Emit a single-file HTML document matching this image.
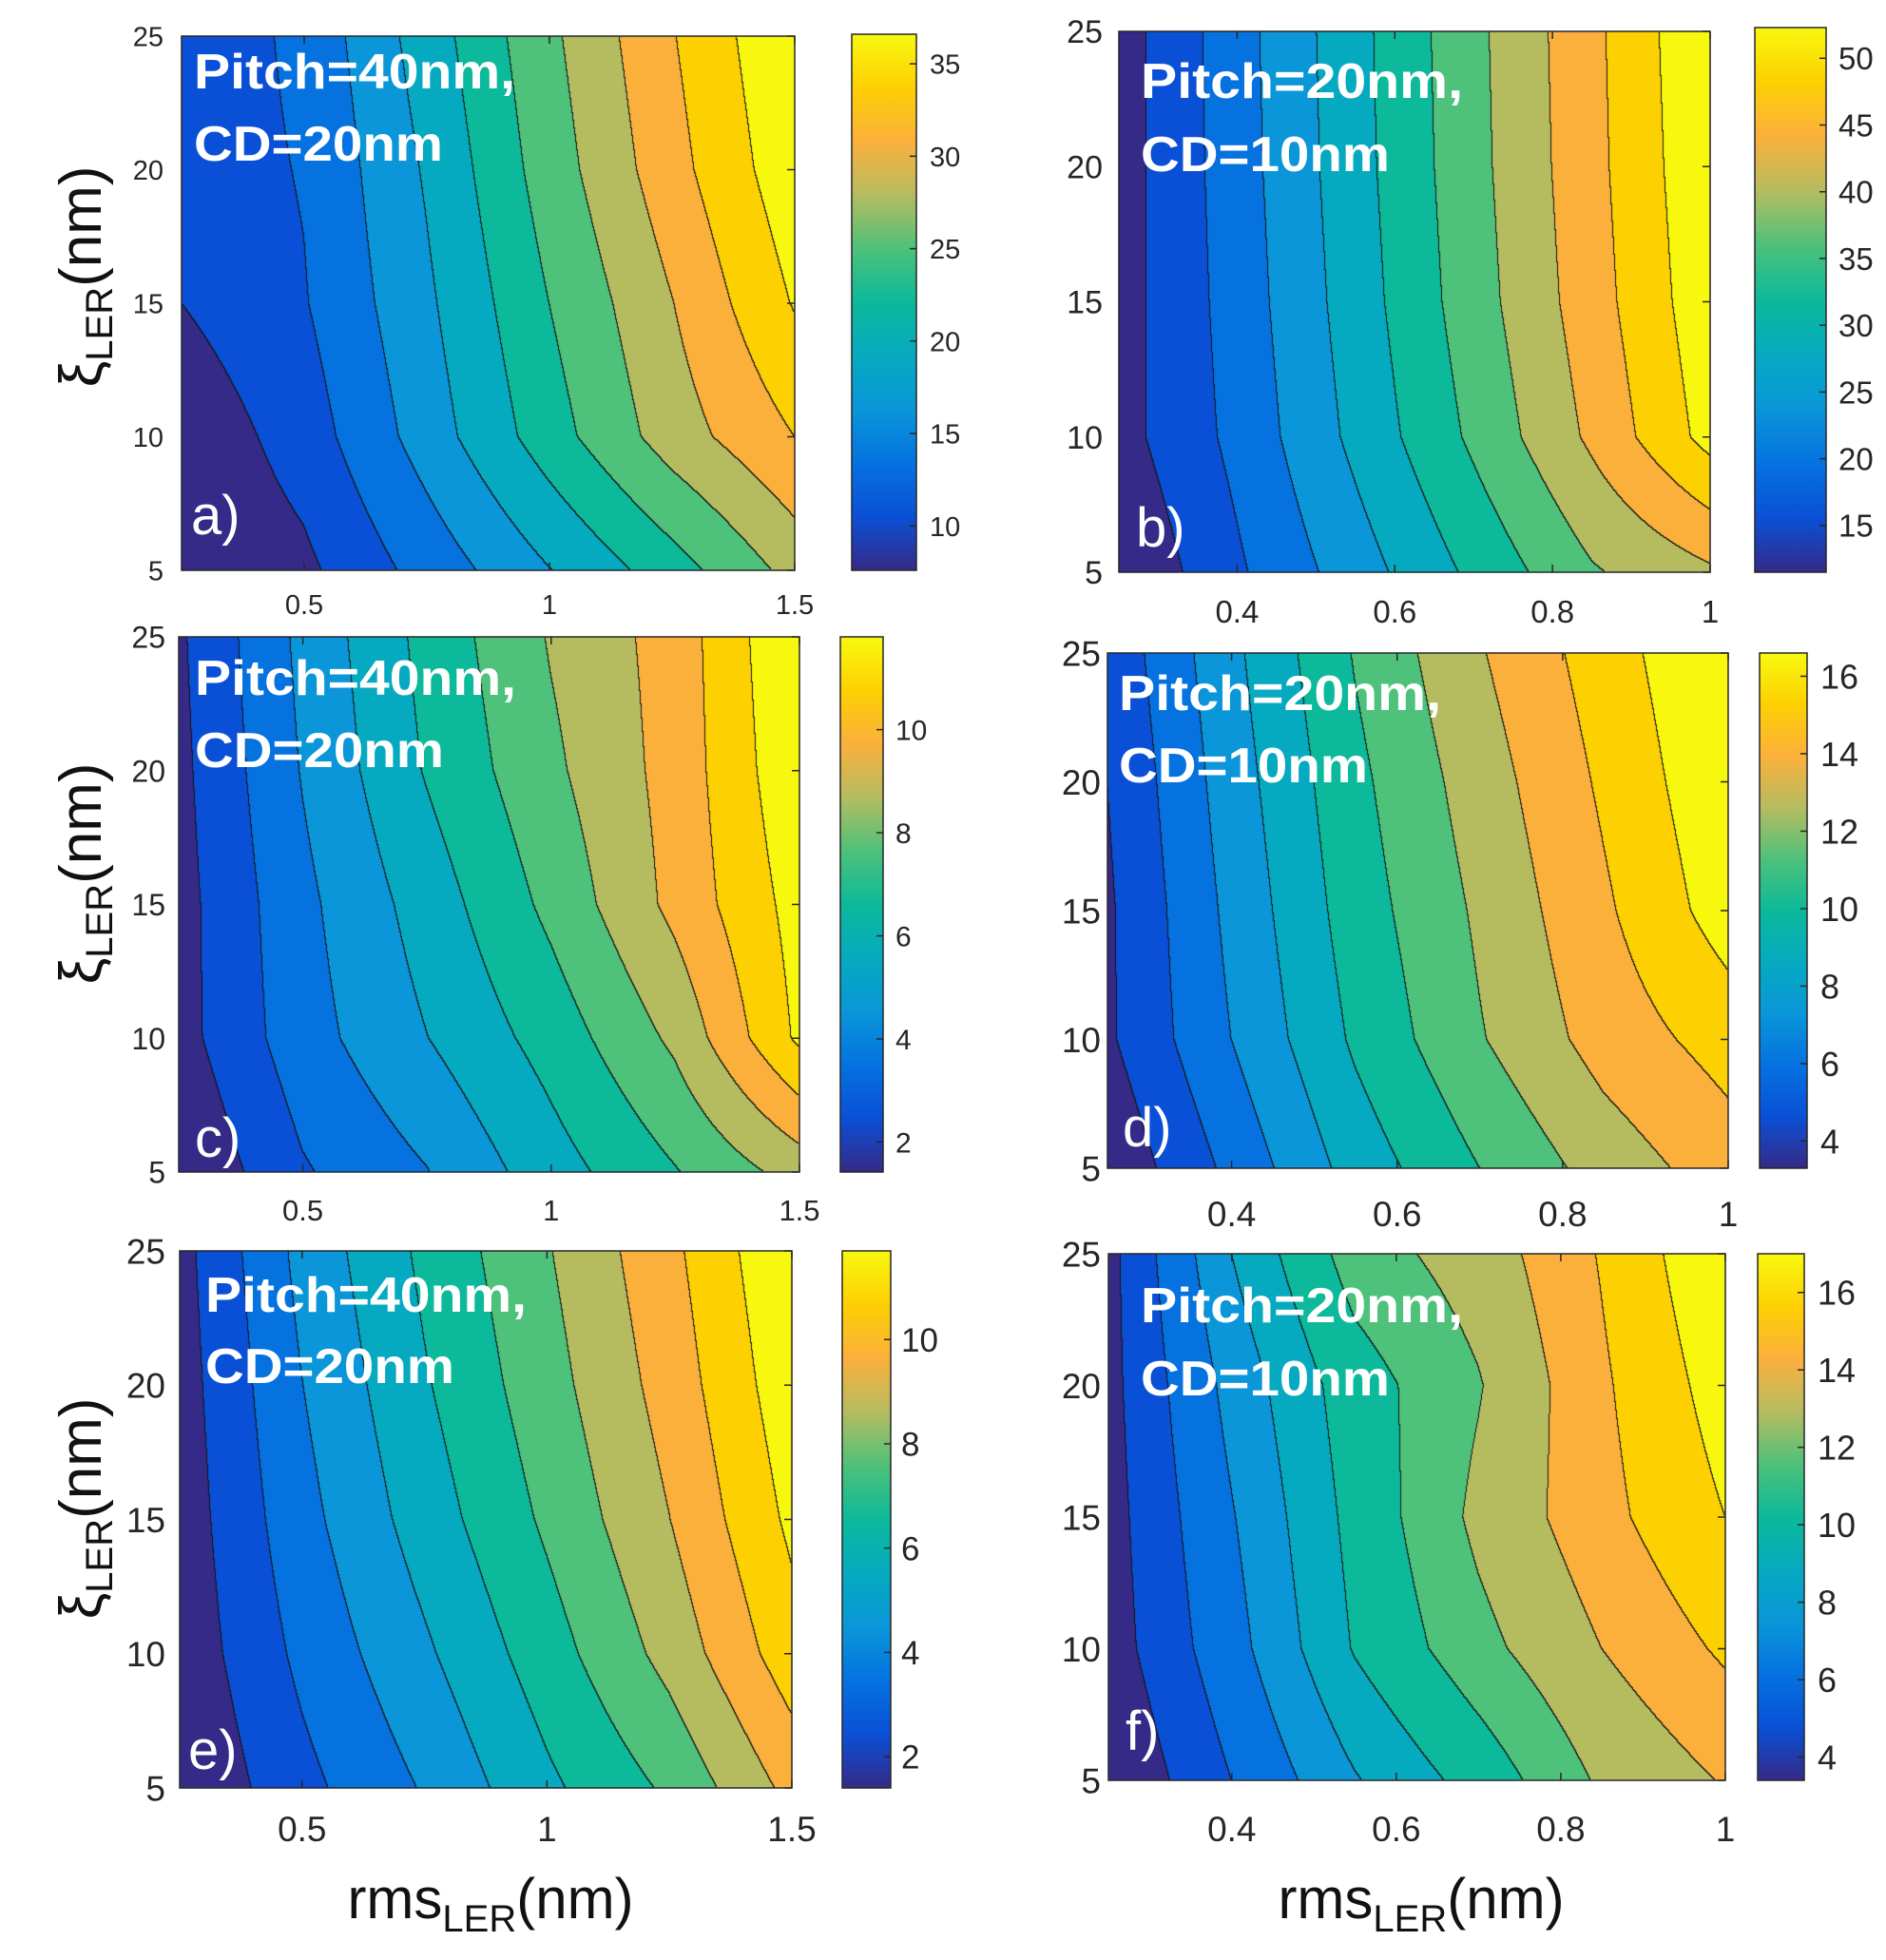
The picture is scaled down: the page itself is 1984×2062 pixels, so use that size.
<!DOCTYPE html>
<html><head><meta charset="utf-8">
<style>
html,body{margin:0;padding:0;background:#fff;}
#root{position:relative;width:1984px;height:2062px;overflow:hidden;background:#fff;}
canvas{position:absolute;}
svg{position:absolute;left:0;top:0;}
</style></head>
<body>
<div id="root">
<svg id="svg" width="1984" height="2062"></svg>
</div>
<script>
// ---------- DATA ----------
const xsLeft = [0.25, 0.5, 0.75, 1.0, 1.25, 1.5];
const xsRight = [0.25, 0.4, 0.55, 0.7, 0.85, 1.0];
const ysGrid = [5, 10, 15, 20, 25];

const zA = [
  [7.6, 9.6, 13.8, 18.0, 22.2, 27.0],
  [8.2, 11.4, 16.7, 22.2, 27.4, 31.3],
  [10.2, 12.6, 17.6, 23.4, 28.6, 34.2],
  [11.0, 13.0, 18.4, 24.7, 30.3, 35.8],
  [10.6, 13.5, 19.4, 25.5, 31.1, 36.6]
];
const zB = [
  [11.5, 18.3, 24.5, 30.8, 37.0, 40.5],
  [13.8, 19.9, 27.2, 34.4, 41.8, 49.8],
  [13.6, 20.5, 28.1, 35.7, 43.1, 51.0],
  [13.5, 20.9, 28.6, 36.2, 43.6, 51.6],
  [13.4, 21.1, 28.8, 36.4, 43.8, 52.0]
];
const zC = [
  [1.42, 3.2, 4.2, 5.7, 7.0, 8.4],
  [2.0, 3.84, 5.16, 6.5, 8.2, 11.0],
  [2.0, 4.0, 5.6, 7.3, 9.2, 11.2],
  [2.1, 4.3, 6.2, 7.8, 9.3, 11.6],
  [2.2, 4.47, 6.42, 8.08, 9.34, 11.8]
];
const zD = [
  [3.5, 6.0, 8.6, 10.5, 12.2, 13.5],
  [4.3, 6.9, 9.5, 11.6, 13.4, 14.6],
  [4.3, 7.2, 9.9, 11.9, 13.9, 15.9],
  [4.5, 7.5, 10.2, 12.3, 14.3, 16.3],
  [4.8, 7.8, 10.6, 12.8, 14.7, 16.6]
];
const zE = [
  [1.4, 3.0, 4.3, 5.9, 7.2, 9.2],
  [1.7, 3.5, 5.0, 6.6, 8.3, 10.4],
  [1.8, 3.9, 5.6, 7.2, 8.9, 11.0],
  [1.9, 4.2, 6.0, 7.6, 9.3, 11.4],
  [2.0, 4.5, 6.3, 7.9, 9.6, 11.7]
];
const zF = [
  [3.4, 5.8, 8.2, 10.0, 12.2, 13.4],
  [4.0, 6.6, 9.6, 11.6, 13.3, 14.7],
  [4.1, 7.0, 9.9, 12.3, 14.1, 15.8],
  [4.2, 7.5, 10.2, 11.9, 14.3, 16.4],
  [4.2, 8.3, 11.4, 12.6, 14.6, 17.0]
];

const levelsA = [10.2, 12.8, 15.5, 18.1, 20.8, 23.4, 26.1, 28.7, 31.3, 34.0];
const levelsB = [15.2, 18.9, 22.6, 26.3, 30.0, 33.7, 37.4, 41.1, 44.8, 48.5];
const levelsC = [2.36, 3.3, 4.24, 5.18, 6.12, 7.06, 8.0, 8.94, 9.88, 10.82];
const levelsD = [4.5, 5.7, 6.9, 8.1, 9.3, 10.5, 11.7, 12.9, 14.1, 15.3];
const levelsE = [2.34, 3.28, 4.22, 5.16, 6.1, 7.04, 7.98, 8.92, 9.86, 10.8];
const levelsF = [4.6, 5.8, 7.1, 8.3, 9.5, 10.8, 12.0, 13.3, 14.5, 15.8];

const climA = [7.6, 36.6], climB = [11.5, 52.3], climC = [1.42, 11.8];
const climD = [3.3, 16.6], climE = [1.4, 11.7], climF = [3.4, 17.0];

const cbTicksA = [10, 15, 20, 25, 30, 35];
const cbTicksB = [15, 20, 25, 30, 35, 40, 45, 50];
const cbTicksC = [2, 4, 6, 8, 10];
const cbTicksD = [4, 6, 8, 10, 12, 14, 16];
const cbTicksE = [2, 4, 6, 8, 10];
const cbTicksF = [4, 6, 8, 10, 12, 14, 16];
const xTicksLeft = [0.5, 1, 1.5];
const xTicksRight = [0.4, 0.6, 0.8, 1];
const yTicks = [5, 10, 15, 20, 25];

const cmapT = [0, 0.1, 0.2, 0.3, 0.4, 0.5, 0.6, 0.7, 0.8, 0.9, 1];
const cmapC = ['#352a87','#0a50d6','#0572e0','#0a96d8','#05aac0','#0cb99a','#4ec17a','#b5bc60','#fbb03c','#fdd002','#f8f80f'];

// ---------- LAYOUT ----------
const panels = [
 {id:'a', xs:xsLeft, z:zA, lv:levelsA, clim:climA, cbt:cbTicksA, xt:xTicksLeft, xr:[0.25,1.5],
  L:191,R:836,T:38,B:600, cbL:896,cbR:964,cbT:36,cbB:600, tickFs:29, yFs:29, cbFs:29, xLabY:646, yLabR:172, cbLabX:978,
  t1:'Pitch=40nm,', t2:'CD=20nm', tx:204, ty1:93, ty2:169, tw1:338, tw2:262, lab:'a)', lx:201, ly:562},
 {id:'b', xs:xsRight, z:zB, lv:levelsB, clim:climB, cbt:cbTicksB, xt:xTicksRight, xr:[0.25,1.0],
  L:1177,R:1799,T:33,B:602, cbL:1846,cbR:1921,cbT:29,cbB:602, tickFs:33, yFs:34, cbFs:33, xLabY:655, yLabR:1160, cbLabX:1934,
  t1:'Pitch=20nm,', t2:'CD=10nm', tx:1200, ty1:103, ty2:180, tw1:339, tw2:262, lab:'b)', lx:1195, ly:575},
 {id:'c', xs:xsLeft, z:zC, lv:levelsC, clim:climC, cbt:cbTicksC, xt:xTicksLeft, xr:[0.25,1.5],
  L:188,R:841,T:670,B:1233, cbL:884,cbR:929,cbT:670,cbB:1233, tickFs:31, yFs:32, cbFs:30, xLabY:1284, yLabR:174, cbLabX:942,
  t1:'Pitch=40nm,', t2:'CD=20nm', tx:205, ty1:731, ty2:807, tw1:338, tw2:262, lab:'c)', lx:205, ly:1217},
 {id:'d', xs:xsRight, z:zD, lv:levelsD, clim:climD, cbt:cbTicksD, xt:xTicksRight, xr:[0.25,1.0],
  L:1165,R:1818,T:687,B:1229, cbL:1851,cbR:1901,cbT:687,cbB:1229, tickFs:37, yFs:37, cbFs:36, xLabY:1290, yLabR:1158, cbLabX:1915,
  t1:'Pitch=20nm,', t2:'CD=10nm', tx:1177, ty1:747, ty2:823, tw1:339, tw2:262, lab:'d)', lx:1181, ly:1206},
 {id:'e', xs:xsLeft, z:zE, lv:levelsE, clim:climE, cbt:cbTicksE, xt:xTicksLeft, xr:[0.25,1.5],
  L:189,R:833,T:1316,B:1881, cbL:886,cbR:937,cbT:1316,cbB:1881, tickFs:37, yFs:37, cbFs:35, xLabY:1937, yLabR:174, cbLabX:948,
  t1:'Pitch=40nm,', t2:'CD=20nm', tx:216, ty1:1380, ty2:1455, tw1:338, tw2:262, lab:'e)', lx:198, ly:1861},
 {id:'f', xs:xsRight, z:zF, lv:levelsF, clim:climF, cbt:cbTicksF, xt:xTicksRight, xr:[0.25,1.0],
  L:1166,R:1815,T:1319,B:1873, cbL:1849,cbR:1898,cbT:1319,cbB:1873, tickFs:37, yFs:37, cbFs:36, xLabY:1937, yLabR:1158, cbLabX:1912,
  t1:'Pitch=20nm,', t2:'CD=10nm', tx:1200, ty1:1391, ty2:1468, tw1:339, tw2:262, lab:'f)', lx:1184, ly:1841}
];

function hex2rgb(h){return [parseInt(h.substr(1,2),16),parseInt(h.substr(3,2),16),parseInt(h.substr(5,2),16)];}
const cmapRGB = cmapC.map(hex2rgb);
function cmap(t){
  t=Math.max(0,Math.min(1,t));
  for(let i=0;i<cmapT.length-1;i++){
    if(t<=cmapT[i+1]){
      const f=(t-cmapT[i])/(cmapT[i+1]-cmapT[i]);
      const a=cmapRGB[i],b=cmapRGB[i+1];
      return [a[0]+(b[0]-a[0])*f,a[1]+(b[1]-a[1])*f,a[2]+(b[2]-a[2])*f];
    }
  }
  return cmapRGB[cmapRGB.length-1];
}
function interp(xs, z, x, y){
  let i=0; while(i<xs.length-2 && x>xs[i+1]) i++;
  let j=0; while(j<ysGrid.length-2 && y>ysGrid[j+1]) j++;
  const fx=Math.max(0,Math.min(1,(x-xs[i])/(xs[i+1]-xs[i])));
  const fy=Math.max(0,Math.min(1,(y-ysGrid[j])/(ysGrid[j+1]-ysGrid[j])));
  const a=z[j][i],b=z[j][i+1],c=z[j+1][i],d=z[j+1][i+1];
  return a*(1-fx)*(1-fy)+b*fx*(1-fy)+c*(1-fx)*fy+d*fx*fy;
}

const root=document.getElementById('root');
const svg=document.getElementById('svg');
const NS='http://www.w3.org/2000/svg';
function el(tag, parent){const e=document.createElementNS(NS,tag);parent.appendChild(e);return e;}
const FONT='"Liberation Sans", Arial, sans-serif';

panels.forEach(p=>{
  const w=p.R-p.L, h=p.B-p.T;
  const xScale=v=>p.L+(v-p.xr[0])/(p.xr[1]-p.xr[0])*w;
  const yScale=v=>p.B-(v-5)/20*h;
  const cv=document.createElement('canvas');
  
  
  cv.width=w; cv.height=h;
  cv.style.left=p.L+'px'; cv.style.top=p.T+'px';
  root.insertBefore(cv, svg);
  const ctx=cv.getContext('2d');
  const img=ctx.createImageData(w,h);
  const nb=p.lv.length;
  const band=new Int16Array(w*h);
  for(let py=0;py<h;py++){
    const yv=25-(py+0.5)/h*20;
    for(let px=0;px<w;px++){
      const xv=p.xr[0]+(px+0.5)/w*(p.xr[1]-p.xr[0]);
      const zv=interp(p.xs,p.z,xv,yv);
      let b=0; while(b<nb && zv>=p.lv[b]) b++;
      band[py*w+px]=b;
    }
  }
  for(let py=0;py<h;py++){
    for(let px=0;px<w;px++){
      const b=band[py*w+px];
      let col=cmap(b/nb);
      const r=px<w-1?band[py*w+px+1]:b, d=py<h-1?band[(py+1)*w+px]:b;
      if(r!==b||d!==b) col=[20,20,20];
      const k=(py*w+px)*4;
      img.data[k]=col[0];img.data[k+1]=col[1];img.data[k+2]=col[2];img.data[k+3]=255;
    }
  }
  ctx.putImageData(img,0,0);

  const box=el('rect',svg);
  
  
  box.setAttribute('x',p.L);box.setAttribute('y',p.T);box.setAttribute('width',w);box.setAttribute('height',h);
  box.setAttribute('fill','none');box.setAttribute('stroke','#262626');box.setAttribute('stroke-width','1.5');

  p.xt.forEach(v=>{
    const x=xScale(v);
    const t=el('line',svg);
    
    
    t.setAttribute('x1',x);t.setAttribute('x2',x);t.setAttribute('y1',p.B);t.setAttribute('y2',p.B-8);
    t.setAttribute('stroke','#262626');t.setAttribute('stroke-width','1.5');
    const t2=el('line',svg);
    
    
    t2.setAttribute('x1',x);t2.setAttribute('x2',x);t2.setAttribute('y1',p.T);t2.setAttribute('y2',p.T+8);
    t2.setAttribute('stroke','#262626');t2.setAttribute('stroke-width','1.5');
    const lb=el('text',svg);
    
    
    lb.setAttribute('x',x);lb.setAttribute('y',p.xLabY);
    lb.setAttribute('text-anchor','middle');lb.setAttribute('font-family',FONT);
    lb.setAttribute('font-size',p.tickFs);lb.setAttribute('fill','#262626');
    lb.textContent=String(v);
  });
  yTicks.forEach(v=>{
    const y=yScale(v);
    const t=el('line',svg);
    
    
    t.setAttribute('x1',p.R);t.setAttribute('x2',p.R-8);t.setAttribute('y1',y);t.setAttribute('y2',y);
    t.setAttribute('stroke','#262626');t.setAttribute('stroke-width','1.5');
    const lb=el('text',svg);
    
    
    lb.setAttribute('x',p.yLabR);lb.setAttribute('y',y+p.yFs*0.36);
    lb.setAttribute('text-anchor','end');lb.setAttribute('font-family',FONT);
    lb.setAttribute('font-size',p.yFs);lb.setAttribute('fill','#262626');
    lb.textContent=String(v);
  });

  const gid='grad-'+p.id;
  const defs=el('defs',svg);
  const g=el('linearGradient',defs);
  g.setAttribute('id',gid);g.setAttribute('x1','0');g.setAttribute('y1','1');g.setAttribute('x2','0');g.setAttribute('y2','0');
  cmapT.forEach((t,i)=>{const s=el('stop',g);s.setAttribute('offset',t);s.setAttribute('stop-color',cmapC[i]);});
  const cb=el('rect',svg);
  
  
  cb.setAttribute('x',p.cbL);cb.setAttribute('y',p.cbT);cb.setAttribute('width',p.cbR-p.cbL);cb.setAttribute('height',p.cbB-p.cbT);
  cb.setAttribute('fill','url(#'+gid+')');cb.setAttribute('stroke','#262626');cb.setAttribute('stroke-width','1.5');
  const cbY=v=>p.cbB-(v-p.clim[0])/(p.clim[1]-p.clim[0])*(p.cbB-p.cbT);
  p.cbt.forEach(v=>{
    const y=cbY(v);
    const t=el('line',svg);
    
    
    t.setAttribute('x1',p.cbR);t.setAttribute('x2',p.cbR-7);t.setAttribute('y1',y);t.setAttribute('y2',y);
    t.setAttribute('stroke','#262626');t.setAttribute('stroke-width','1.5');
    const lb=el('text',svg);
    
    
    lb.setAttribute('x',p.cbLabX);lb.setAttribute('y',y+p.cbFs*0.36);
    lb.setAttribute('font-family',FONT);lb.setAttribute('font-size',p.cbFs);lb.setAttribute('fill','#262626');
    lb.textContent=String(v);
  });

  const a1=el('text',svg);
  
  
  a1.setAttribute('x',p.tx);a1.setAttribute('y',p.ty1);a1.setAttribute('font-family',FONT);
  a1.setAttribute('font-weight','bold');a1.setAttribute('font-size','52');a1.setAttribute('fill','#fff');
  a1.setAttribute('textLength',p.tw1);a1.setAttribute('lengthAdjust','spacingAndGlyphs');
  a1.textContent=p.t1;
  const a2=el('text',svg);
  
  
  a2.setAttribute('x',p.tx);a2.setAttribute('y',p.ty2);a2.setAttribute('font-family',FONT);
  a2.setAttribute('font-weight','bold');a2.setAttribute('font-size','52');a2.setAttribute('fill','#fff');
  a2.setAttribute('textLength',p.tw2);a2.setAttribute('lengthAdjust','spacingAndGlyphs');
  a2.textContent=p.t2;
  const pl=el('text',svg);
  
  
  pl.setAttribute('x',p.lx);pl.setAttribute('y',p.ly);pl.setAttribute('font-family',FONT);
  pl.setAttribute('font-size','58');pl.setAttribute('fill','#fff');
  pl.textContent=p.lab;
});

[291, 919, 1587].forEach(cy=>{
  const t=el('text',svg);
  
  
  t.setAttribute('transform','translate(106,'+cy+') rotate(-90)');
  t.setAttribute('text-anchor','middle');t.setAttribute('font-family',FONT);t.setAttribute('font-size','62');t.setAttribute('fill','#111');
  t.innerHTML='ξ<tspan font-size="40" dy="12">LER</tspan><tspan dy="-12">(nm)</tspan>';
});
[516, 1495].forEach(cx=>{
  const t=el('text',svg);
  
  
  t.setAttribute('x',cx);t.setAttribute('y',2018);
  t.setAttribute('text-anchor','middle');t.setAttribute('font-family',FONT);t.setAttribute('font-size','60');t.setAttribute('fill','#111');
  t.innerHTML='rms<tspan font-size="40" dy="14">LER</tspan><tspan dy="-14">(nm)</tspan>';
});
</script>
</body></html>
